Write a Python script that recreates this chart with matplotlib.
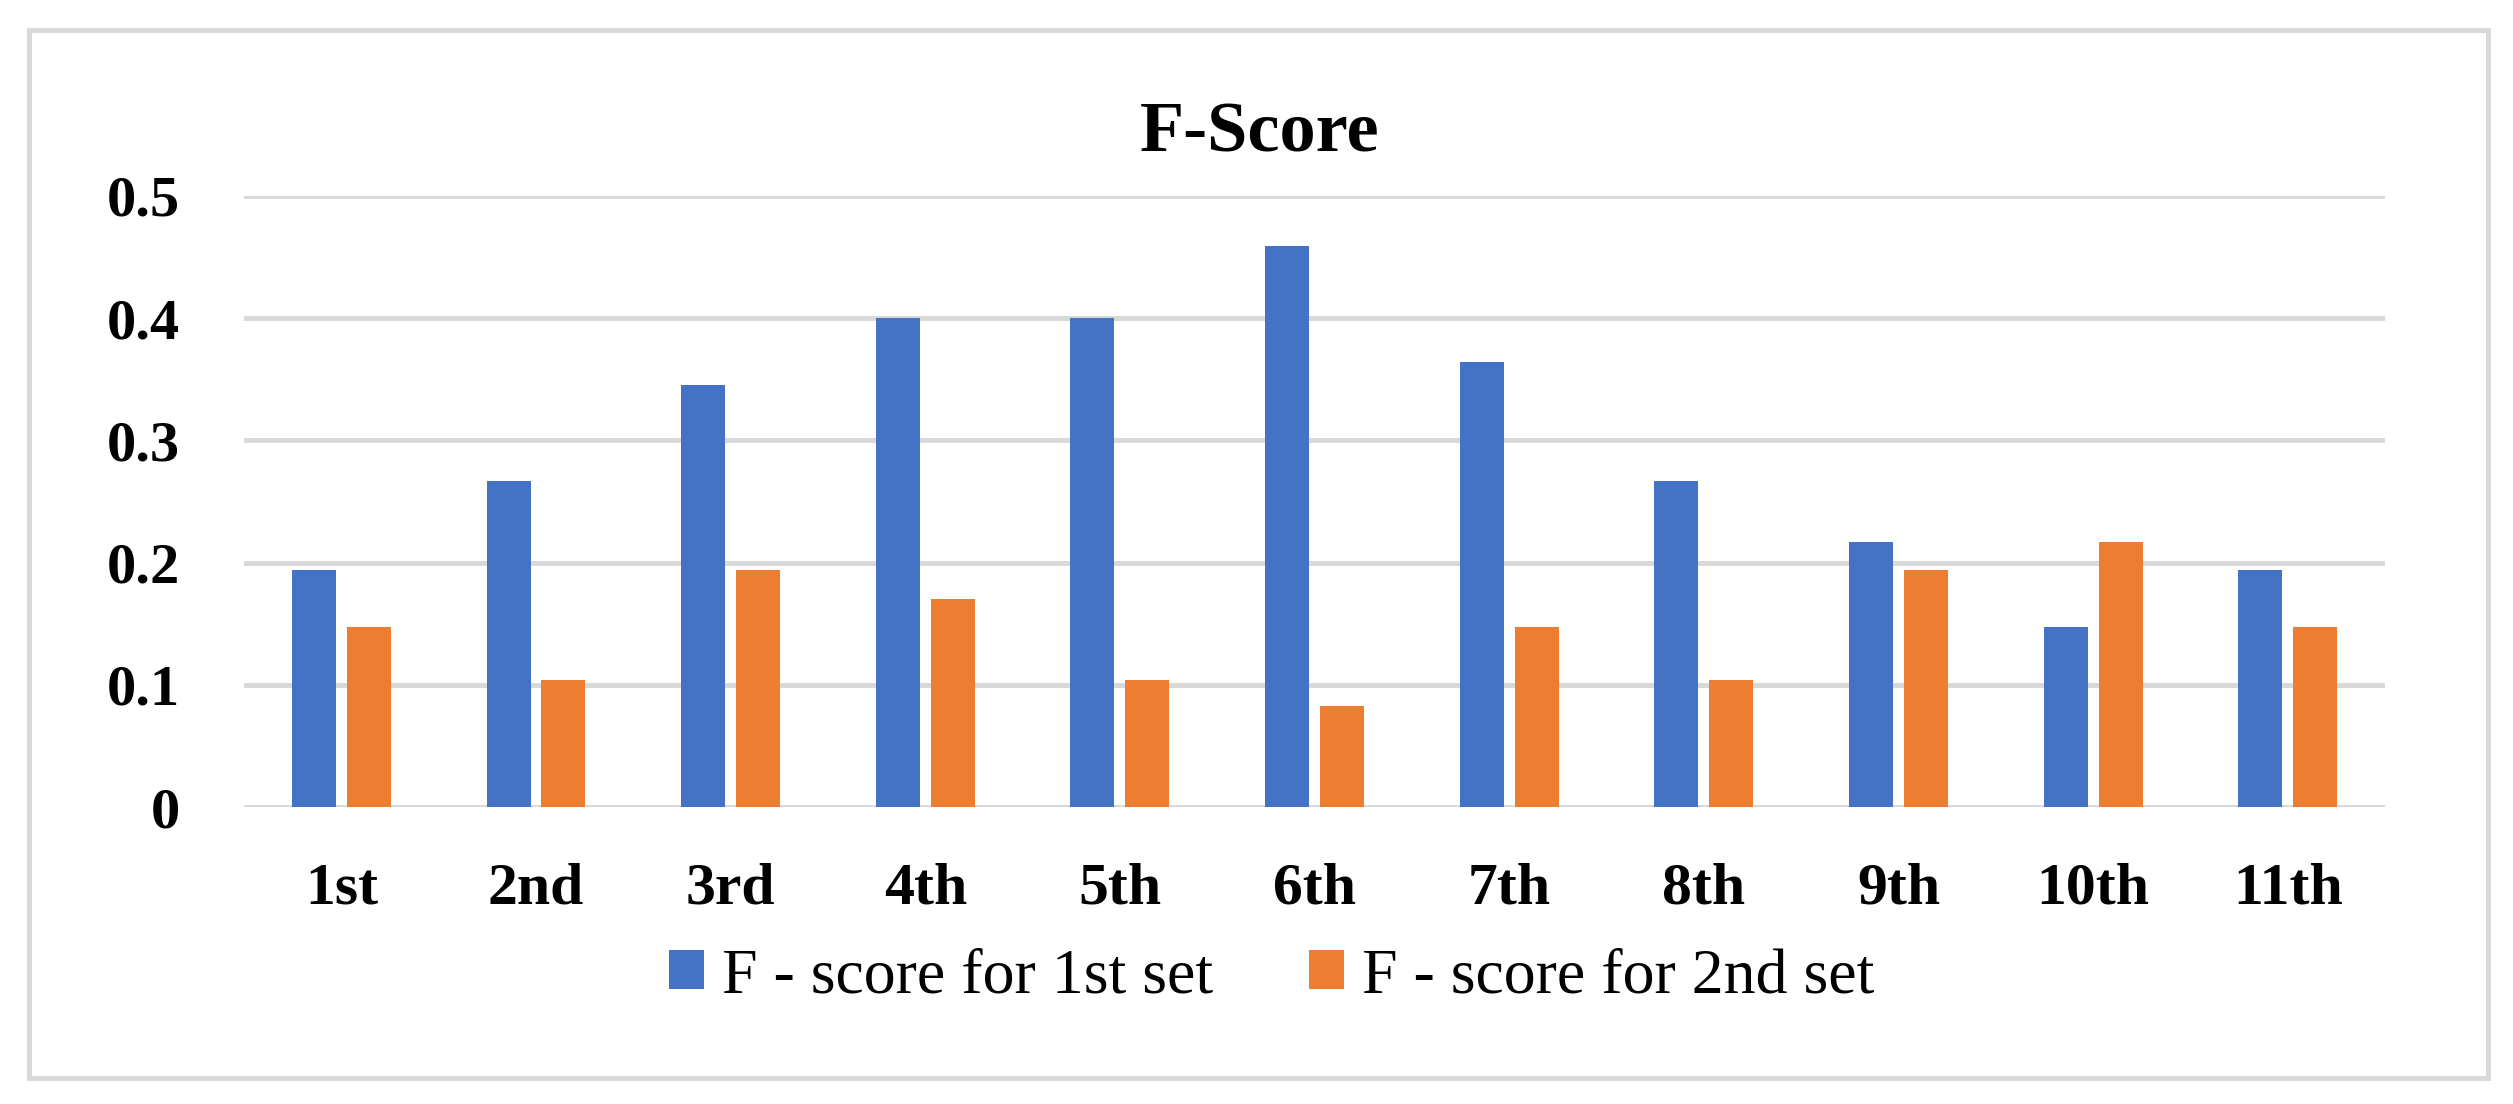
import matplotlib

matplotlib.use("Agg")
import matplotlib.pyplot as plt
from matplotlib.patches import Rectangle
import numpy as np

plt.rcParams["font.family"] = ["Liberation Serif", "DejaVu Serif"]

BLUE_COLOR = "#4472C4"
ORANGE_COLOR = "#ED7D31"
GRID_COLOR = "#D9D9D9"
TEXT_COLOR = "black"

categories = ["1st", "2nd", "3rd", "4th", "5th", "6th", "7th", "8th", "9th", "10th", "11th"]
scoreSet1 = [0.194, 0.267, 0.345, 0.400, 0.400, 0.459, 0.364, 0.267, 0.217, 0.147, 0.194]
scoreSet2 = [0.147, 0.104, 0.194, 0.170, 0.104, 0.083, 0.147, 0.104, 0.194, 0.217, 0.147]
yTicks = [0, 0.1, 0.2, 0.3, 0.4, 0.5]
yTickLabels = ["0", "0.1", "0.2", "0.3", "0.4", "0.5"]
seriesLabels = ["F - score for 1st set", "F - score for 2nd set"]
title = "F-Score"


# Applies the Excel-like axis styling.
def _styleAx(ax):
    for spine in ax.spines.values():
        spine.set_visible(False)
    ax.set_axisbelow(True)
    ax.yaxis.grid(True, color=GRID_COLOR, linewidth=3.6)
    ax.xaxis.grid(False)
    ax.tick_params(axis="both", length=0)
    ax.tick_params(axis="y", pad=46)
    ax.tick_params(axis="x", pad=40)


fig = plt.figure(figsize=(25.13, 11.04), dpi=100)
fig.patch.set_facecolor("white")
ax = fig.add_axes([0.0971, 0.2690, 0.8520, 0.5535])
_styleAx(ax)

xPos = np.arange(len(categories))
barWidth = 0.226
offset = 0.141
ax.bar(xPos - offset, scoreSet1, width=barWidth, color=BLUE_COLOR, label=seriesLabels[0])
ax.bar(xPos + offset, scoreSet2, width=barWidth, color=ORANGE_COLOR, label=seriesLabels[1])

ax.set_xlim(-0.5, len(categories) - 0.5)
ax.set_ylim(0, 0.5)
ax.set_yticks(yTicks)
ax.set_yticklabels(yTickLabels, fontsize=42, fontweight="bold", color=TEXT_COLOR)
ax.set_xticks(xPos)
ax.set_xticklabels(categories, fontsize=43, fontweight="bold", color=TEXT_COLOR)

fig.text(0.5014, 0.879, title, ha="center", va="center", fontsize=52,
         fontweight="bold", color=TEXT_COLOR)

legend = fig.legend(
    loc="center",
    bbox_to_anchor=(0.506, 0.115),
    ncol=2,
    frameon=False,
    fontsize=46,
    handlelength=0.55,
    handleheight=0.58,
    handletextpad=0.28,
    columnspacing=1.5,
)

# Outer chart border
fig.patches.append(Rectangle(
    (0.01154, 0.02355), 0.97851, 0.94928,
    transform=fig.transFigure, fill=False,
    edgecolor=GRID_COLOR, linewidth=3.6,
))

plt.savefig("out.png", dpi=100, facecolor="white")
plt.close(fig)
